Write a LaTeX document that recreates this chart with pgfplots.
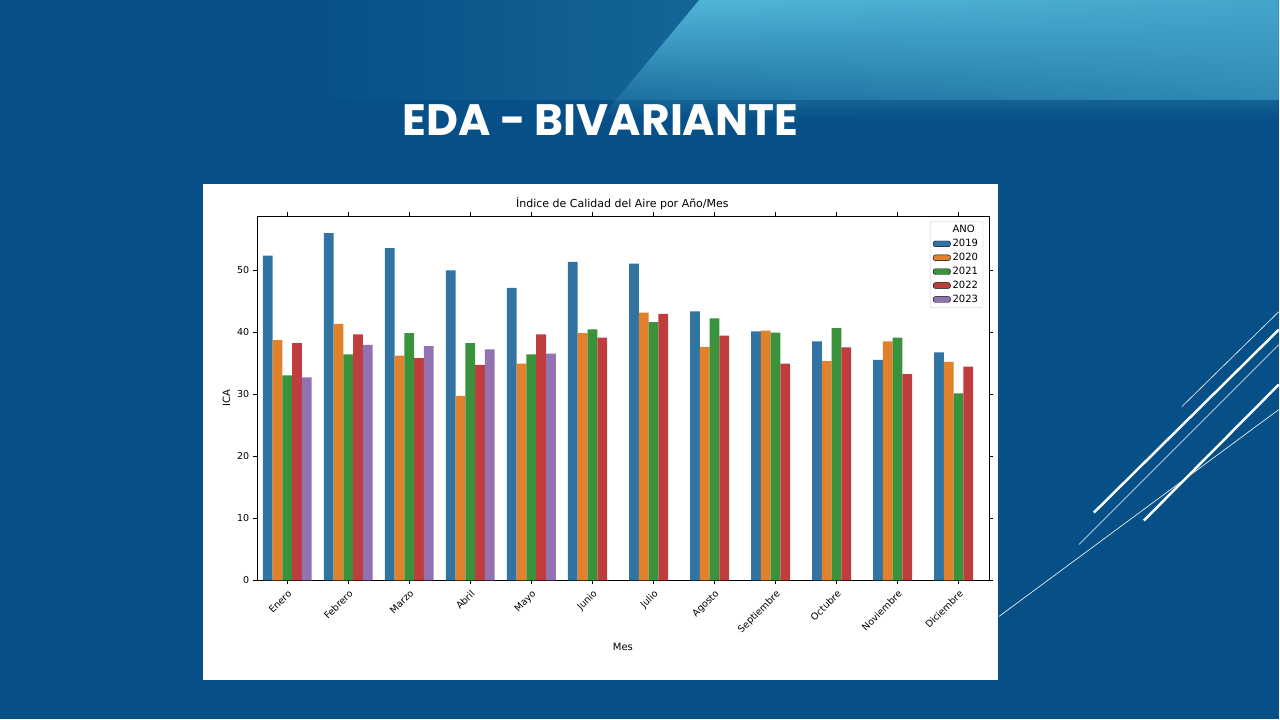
\documentclass[border=0pt]{standalone}
\usepackage{pgfplots}
\pgfplotsset{compat=1.18}
\usepackage{fontspec}
\setmainfont{DejaVu Sans}
\newfontfamily\titlefont{Poppins}
\usetikzlibrary{fadings}
\definecolor{bg}{HTML}{065087}
\definecolor{cy}{HTML}{62CDEB}
\definecolor{c1}{HTML}{3274A1}
\definecolor{c2}{HTML}{E1812C}
\definecolor{c3}{HTML}{3A923A}
\definecolor{c4}{HTML}{C03D3E}
\definecolor{c5}{HTML}{9372B2}
\begin{document}
\begin{tikzpicture}[x=1pt,y=1pt]
\fill[bg] (0,0) rectangle (1280,720);
\fill[cy,path fading=south,opacity=0.9] (600,600) -- (1280,600) -- (1280,720) -- (700,720) -- cycle;
\fill[cy!60!bg,path fading=west,opacity=0.7] (300,620) rectangle (1280,720);
\fill[bg,path fading=north] (0,560) .. controls (500,640) and (900,590) .. (1280,590) -- (1280,560) -- cycle;
\node[white,font=\titlefont\bfseries\fontsize{44}{50}\selectfont] at (601,600) {EDA - BIVARIANTE};
\draw[white,line width=0.6pt] (1000,103) -- (1280,310);
\draw[white,line width=2.5pt] (1095,207) -- (1280,390);
\draw[white,line width=2.5pt] (1145,199) -- (1280,335);
\draw[white,line width=0.6pt] (1183,313) -- (1280,408);
\draw[white,line width=0.6pt] (1080,175) -- (1280,375);
\fill[white] (203,39) rectangle (999,536);
\node[font=\fontsize{11}{13}\selectfont] at (623,516) {Índice de Calidad del Aire por Año/Mes};
\begin{axis}[at={(257pt,139pt)},anchor=south west,width=733pt,height=365pt,scale only axis,
 ybar=0pt, bar width=0.16, xmin=-0.5, xmax=11.5, ymin=0, ymax=58.7,
 xtick={0,...,11}, xticklabels={Enero,Febrero,Marzo,Abril,Mayo,Junio,Julio,Agosto,Septiembre,Octubre,Noviembre,Diciembre},
 xticklabel style={rotate=45,anchor=north east,font=\fontsize{9.5}{11}\selectfont},
 yticklabel style={font=\fontsize{9.5}{11}\selectfont},
 ytick={0,10,...,50}, /pgf/number format/assume math mode=true,
 tick align=outside, tick style={black}, major tick length=4pt,
 xlabel={Mes}, ylabel={ICA}, label style={font=\fontsize{10}{12}\selectfont},
 every axis plot/.append style={draw=none},
 legend cell align=left, area legend,
 legend style={at={(0.992,0.985)},anchor=north east,font=\fontsize{10}{12}\selectfont,draw=black!20,rounded corners=2pt,row sep=1pt},
]
\addlegendimage{empty legend}\addlegendentry{\hspace{-0.6cm}\makebox[1.6cm][c]{ANO}}
\addplot[fill=c1] coordinates {(0,52.3)(1,55.9)(2,53.5)(3,49.9)(4,47.1)(5,51.3)(6,51.0)(7,43.3)(8,40.1)(9,38.5)(10,35.5)(11,36.7)};
\addplot[fill=c2] coordinates {(0,38.7)(1,41.3)(2,36.2)(3,29.7)(4,34.9)(5,39.8)(6,43.1)(7,37.6)(8,40.2)(9,35.3)(10,38.5)(11,35.2)};
\addplot[fill=c3] coordinates {(0,33.0)(1,36.4)(2,39.8)(3,38.2)(4,36.4)(5,40.4)(6,41.6)(7,42.2)(8,39.9)(9,40.6)(10,39.1)(11,30.1)};
\addplot[fill=c4] coordinates {(0,38.2)(1,39.6)(2,35.8)(3,34.7)(4,39.6)(5,39.1)(6,42.9)(7,39.4)(8,34.9)(9,37.5)(10,33.2)(11,34.4)};
\addplot[fill=c5] coordinates {(0,32.7)(1,37.9)(2,37.7)(3,37.2)(4,36.5)};
\legend{ANO,2019,2020,2021,2022,2023}
\end{axis}
\end{tikzpicture}
\end{document}
